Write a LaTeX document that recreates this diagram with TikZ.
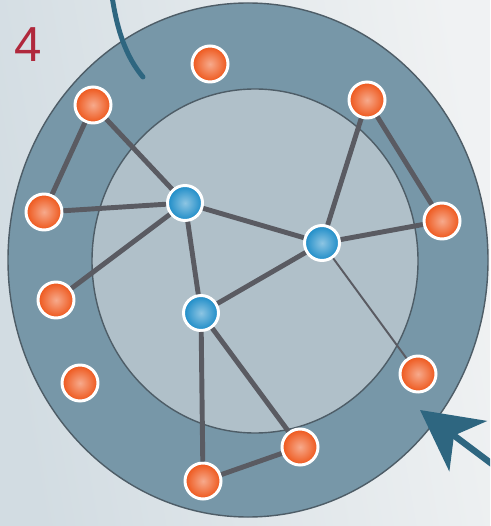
\documentclass[tikz,border=0pt]{standalone}
\usepackage{fontspec}
\setmainfont{Liberation Sans}
\usetikzlibrary{arrows.meta}
\definecolor{netbg}{HTML}{D2DCE2}
\definecolor{netbglight}{HTML}{F0F2F3}
\definecolor{netring}{HTML}{7797A8}
\definecolor{netcore}{HTML}{B0C0C9}
\definecolor{netrim}{HTML}{4E5D67}
\definecolor{netlink}{HTML}{5A5B62}
\definecolor{netorange}{HTML}{EE5519}
\definecolor{netblue}{HTML}{1B8BC7}
\definecolor{netteal}{HTML}{2E6680}
\definecolor{netred}{HTML}{B0283C}

\tikzset{
  peer/.style={circle, draw=white, line width=1.7pt, minimum size=0.72cm,
               inner sep=0pt, inner color=netorange!50!white, outer color=netorange},
  hub/.style={circle, draw=white, line width=1.7pt, minimum size=0.70cm,
              inner sep=0pt, inner color=netblue!50!white, outer color=netblue},
  link/.style={draw=netlink, line width=2.8pt},
  thinlink/.style={draw=netlink, line width=1.1pt}
}

\begin{document}
\begin{tikzpicture}[x=0.02cm, y=-0.02cm]
    \useasboundingbox (0,0) rectangle (490,526);
    \clip (0,0) rectangle (490,526);
    \shade[left color=netbg, right color=netbglight, shading angle=100] (0,0) rectangle (490,526);

    % rings
    \draw[netrim, fill=netring, line width=0.8pt] (248,260) ellipse [x radius=240, y radius=257];
    \draw[netrim, fill=netcore, line width=0.8pt] (255,261) ellipse [x radius=163, y radius=172];

    % decoration
    \node[text=netred, font=\fontsize{28}{28}\selectfont, inner sep=0pt] (label) at (28,45) {4};
    \draw[netteal, line width=2.8pt, line cap=round] (112,-4) .. controls (117,30) and (126,57) .. (143,77);
    \coordinate (arrowtail) at (500,470);
    \coordinate (arrowtip) at (420,410);
    \draw[netteal, line width=3.6pt, -{Stealth[length=1.2cm, width=1.25cm, inset=0.35cm]}] (arrowtail) -- (arrowtip);

    % outer peers
    \node[peer] (o1) at (210,64) {};
    \node[peer] (o2) at (93,105) {};
    \node[peer] (o3) at (367,100) {};
    \node[peer] (o4) at (44,212) {};
    \node[peer] (o5) at (442,221) {};
    \node[peer] (o6) at (56,300) {};
    \node[peer] (o7) at (80,383) {};
    \node[peer] (o8) at (418,374) {};
    \node[peer] (o9) at (300,447) {};
    \node[peer] (o10) at (203,481) {};

    % inner hubs
    \node[hub] (b1) at (185,203) {};
    \node[hub] (b2) at (322,243) {};
    \node[hub] (b3) at (201,313) {};

    % links
    \draw[link] (o2) -- (o4);
    \draw[link] (o2) -- (b1);
    \draw[link] (o4) -- (b1);
    \draw[link] (o6) -- (b1);
    \draw[link] (b1) -- (b2);
    \draw[link] (b1) -- (b3);
    \draw[link] (b3) -- (b2);
    \draw[link] (b2) -- (o3);
    \draw[link] (b2) -- (o5);
    \draw[link] (o3) -- (o5);
    \draw[link] (b3) -- (o10);
    \draw[link] (b3) -- (o9);
    \draw[link] (o10) -- (o9);
    \draw[thinlink] (b2) -- (o8);
  \end{tikzpicture}
\end{document}
